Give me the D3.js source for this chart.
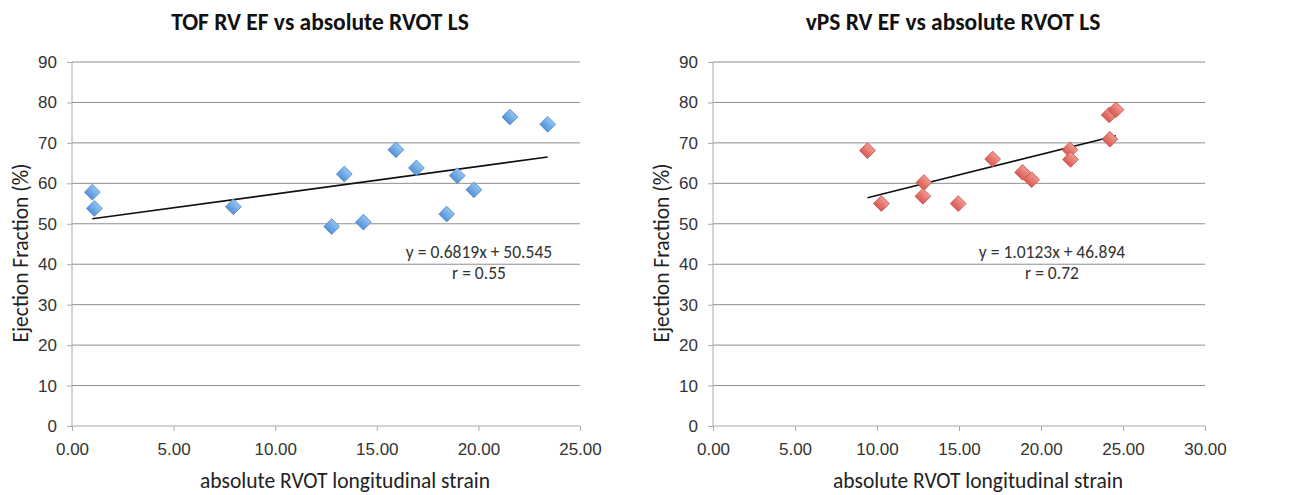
<!DOCTYPE html>
<html>
<head>
<meta charset="utf-8">
<script src="https://cdn.jsdelivr.net/npm/d3@7"></script>
<style>
  html, body { margin: 0; padding: 0; background: #fff; }
  svg { display: block; font-family: Carlito, Calibri, Lato, sans-serif; }
  .grid line { stroke: #8e8e8e; stroke-width: 1; }
  .axis path, .axis line { stroke: #a9a9a9; }
  .axis text { fill: #333; font-size: 17px; }
  .title { font-weight: bold; font-size: 23.5px; fill: #111; }
  .axis-title { font-size: 21.5px; fill: #222; }
  .eq { font-size: 17.5px; fill: #333; }
  .trend { stroke: #111; stroke-width: 1.6; }
</style>
</head>
<body>
<svg id="chart" width="1312" height="495"></svg>
<script>
// TOF panel: absolute RVOT LS vs RV EF
const tofStrain = [1.0, 1.1, 7.94, 12.78, 13.4, 14.34, 15.94, 16.95, 18.44, 18.96, 19.78, 21.55, 23.41];
const tofEF     = [57.8, 53.8, 54.2, 49.3, 62.3, 50.4, 68.3, 63.8, 52.4, 61.9, 58.4, 76.4, 74.6];
const tofFit    = [0.6819, 50.545];   // slope, intercept
const tofR      = 0.55;

// vPS panel
const vpsStrain = [9.42, 10.27, 12.86, 12.8, 14.95, 17.05, 18.88, 19.43, 21.76, 21.8, 24.16, 24.57, 24.2];
const vpsEF     = [68.1, 55.0, 60.2, 56.8, 55.0, 66.0, 62.7, 60.9, 68.3, 65.9, 76.9, 78.2, 70.9];
const vpsFit    = [1.0123, 46.894];
const vpsR      = 0.72;

const efTicks     = [0, 10, 20, 30, 40, 50, 60, 70, 80, 90];
const tofStrainTicks = [0, 5, 10, 15, 20, 25];
const vpsStrainTicks = [0, 5, 10, 15, 20, 25, 30];

const titles = ['TOF RV EF vs absolute RVOT LS', 'vPS RV EF vs absolute RVOT LS'];
const xTitle = 'absolute RVOT longitudinal strain';
const yTitle = 'Ejection Fraction (%)';

(function () {
  const svg = d3.select('#chart');
  const defs = svg.append('defs');

  function gradient(id, top, bottom) {
    const g = defs.append('linearGradient').attr('id', id)
      .attr('x1', 0).attr('y1', 0).attr('x2', 0).attr('y2', 1);
    g.append('stop').attr('offset', '0%').attr('stop-color', top);
    g.append('stop').attr('offset', '100%').attr('stop-color', bottom);
  }
  gradient('blueFill', '#93c4f2', '#5592d8');
  gradient('redFill', '#f29a91', '#d95a52');

  const diamond = d3.symbol(d3.symbolSquare).size(124)();

  function fmtEq(fit) {
    return 'y = ' + fit[0] + 'x + ' + fit[1];
  }

  function drawPanel(p) {
    const x = d3.scaleLinear().domain(p.xDomain).range([p.left, p.right]);
    const y = d3.scaleLinear().domain([0, 90]).range([426, 62]);
    const g = svg.append('g');

    // horizontal gridlines
    g.append('g').attr('class', 'grid')
      .selectAll('line')
      .data(efTicks.slice(1))
      .join('line')
      .attr('x1', p.left).attr('x2', p.right)
      .attr('y1', d => y(d)).attr('y2', d => y(d));

    // axes
    g.append('g').attr('class', 'axis')
      .attr('transform', `translate(${p.left},0)`)
      .call(d3.axisLeft(y).tickValues(efTicks).tickSize(5).tickPadding(10))
      .call(a => a.select('.domain').attr('d', `M0,${y(90)}V${y(0)}`));

    g.append('g').attr('class', 'axis')
      .attr('transform', `translate(0,${y(0)})`)
      .call(d3.axisBottom(x).tickValues(p.xTicks).tickFormat(d3.format('.2f')).tickSize(5).tickPadding(12))
      .call(a => a.select('.domain').attr('d', `M${p.left},0H${p.right}`));

    // trendline over data range
    const xs = d3.extent(p.xs);
    g.append('line').attr('class', 'trend')
      .attr('x1', x(xs[0])).attr('y1', y(p.fit[0] * xs[0] + p.fit[1]))
      .attr('x2', x(xs[1])).attr('y2', y(p.fit[0] * xs[1] + p.fit[1]));

    // markers
    g.append('g')
      .selectAll('path')
      .data(p.xs.map((v, i) => [v, p.ys[i]]))
      .join('path')
      .attr('d', diamond)
      .attr('transform', d => `translate(${x(d[0])},${y(d[1])}) rotate(45)`)
      .attr('fill', p.fill)
      .attr('stroke', p.stroke)
      .attr('stroke-width', 0.8);

    // trend equation
    g.append('text').attr('class', 'eq')
      .attr('x', p.eqX).attr('y', 258).attr('text-anchor', 'middle')
      .text(fmtEq(p.fit));
    g.append('text').attr('class', 'eq')
      .attr('x', p.eqX).attr('y', 279).attr('text-anchor', 'middle')
      .text('r = ' + p.r);

    // titles
    const cx = (p.left + p.right) / 2;
    g.append('text').attr('class', 'title')
      .attr('x', cx - 6).attr('y', 30).attr('text-anchor', 'middle')
      .text(p.title);
    g.append('text').attr('class', 'axis-title')
      .attr('x', cx + 19).attr('y', 488).attr('text-anchor', 'middle')
      .text(xTitle);
    g.append('text').attr('class', 'axis-title')
      .attr('transform', `translate(${p.left - 44},${(y(0) + y(90)) / 2 + 9}) rotate(-90)`)
      .attr('text-anchor', 'middle')
      .text(yTitle);
  }

  drawPanel({
    title: titles[0], xs: tofStrain, ys: tofEF, fit: tofFit, r: tofR,
    xDomain: [0, 25], xTicks: tofStrainTicks, left: 72, right: 580,
    fill: 'url(#blueFill)', stroke: '#4f86c6', eqX: 479
  });

  drawPanel({
    title: titles[1], xs: vpsStrain, ys: vpsEF, fit: vpsFit, r: vpsR,
    xDomain: [0, 30], xTicks: vpsStrainTicks, left: 713, right: 1205,
    fill: 'url(#redFill)', stroke: '#c2524b', eqX: 1052
  });
})();
</script>
</body>
</html>
